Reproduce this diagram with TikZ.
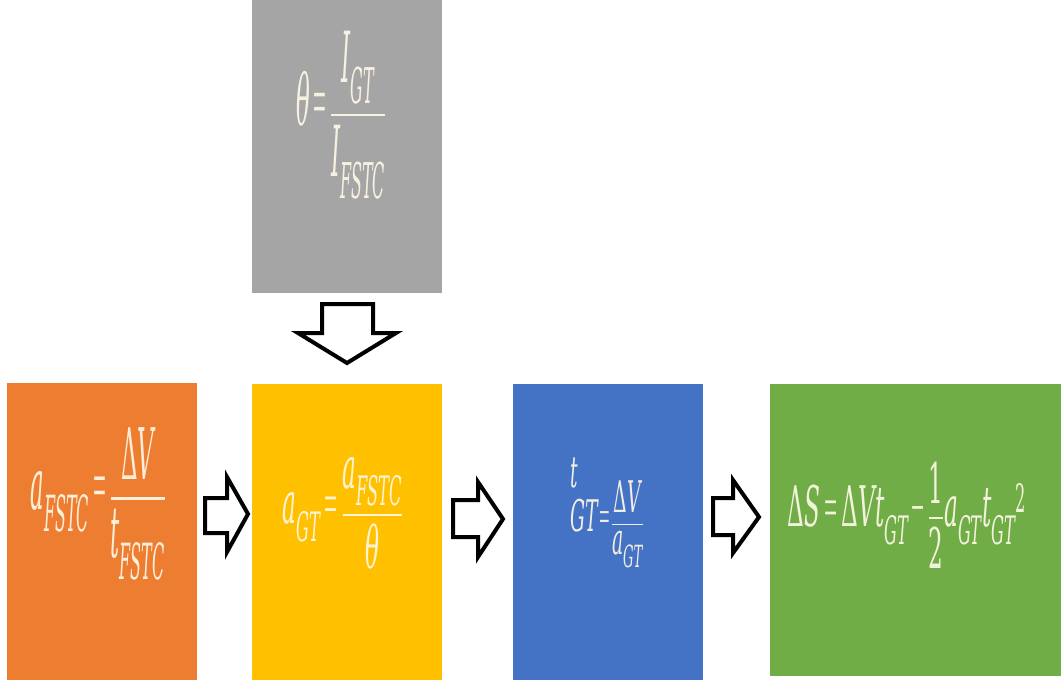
\documentclass[tikz,border=0pt]{standalone}
\usepackage{amsmath}
\usepackage{graphicx}
\usepackage{fontspec}
\newfontfamily\eqfont{DejaVu Serif}
\newfontfamily\eqthin{Liberation Serif}
\newcommand\mi[1]{\text{\eqfont\itshape #1}}
\newcommand\mup[1]{\text{\eqfont #1}}
\newcommand\eqs{\mathrel{\text{\eqthin =}}}
\newcommand\mns{\mathbin{\text{\eqthin −}}}
\newcommand\fr[2]{\genfrac{}{}{1.7pt}{0}{#1}{#2}}
\definecolor{boxgray}{HTML}{A5A5A5}
\definecolor{boxorange}{HTML}{ED7D31}
\definecolor{boxyellow}{HTML}{FFC000}
\definecolor{boxblue}{HTML}{4472C4}
\definecolor{boxgreen}{HTML}{70AD47}
\definecolor{eqcol}{HTML}{FFF8E8}
\begin{document}
\begin{tikzpicture}[x=1pt,y=-1pt,
  box/.style={draw=none,inner sep=0pt,outer sep=0pt,anchor=north west},
  eq/.style={inner sep=0pt,text=eqcol,text opacity=0.92,font=\eqfont\fontsize{40}{46}\selectfont},
  blockarrow/.style={draw=black,fill=white,line width=4pt,line join=miter}]
\useasboundingbox (0,0) rectangle (1061,682);
\fill[white] (0,0) rectangle (1061,682);
% boxes
\node[box,fill=boxgray,minimum width=190pt,minimum height=293pt] (theta) at (252,0) {};
\node[box,fill=boxorange,minimum width=190pt,minimum height=297pt] (afstc) at (7,383) {};
\node[box,fill=boxyellow,minimum width=190pt,minimum height=296pt] (agt) at (252,384) {};
\node[box,fill=boxblue,minimum width=190pt,minimum height=296pt] (tgt) at (513,384) {};
\node[box,fill=boxgreen,minimum width=291pt,minimum height=292pt] (ds) at (770,384) {};
% formulas
\node[eq] (thetaeq) at (341,115) {\scalebox{0.57}[1.76]{$\displaystyle \mi{θ}\eqs\fr{\mi{I}_{\mi{GT}}}{\mi{I}_{\mi{FSTC}}}$}};
\node[eq] (afstceq) at (98,504) {\scalebox{0.57}[1.78]{$\displaystyle \mi{a}_{\mi{FSTC}}\eqs\fr{\mup{Δ}\mi{V}}{\mi{t}_{\mi{FSTC}}}$}};
\node[eq] (agteq) at (343,513) {\scalebox{0.58}[1.45]{$\displaystyle \mi{a}_{\mi{GT}}\eqs\fr{\mi{a}_{\mi{FSTC}}}{\mi{θ}}$}};
\node[eq] (tgteq) at (607,513) {\scalebox{0.47}[1.09]{$\displaystyle \rlap{\raisebox{1.0em}{\mi{t}}}\mi{GT}\!\eqs\!\fr{\mup{Δ}\mi{V}}{\mi{a}_{\mi{GT}}}$}};
\node[eq] (dseq) at (907,515) {\scalebox{0.58}[1.4]{$\displaystyle \mup{Δ}\mi{S}\eqs\mup{Δ}\mi{V}\mi{t}_{\mi{GT}}\mns\fr{\mup{1}}{\mup{2}}\mi{a}_{\mi{GT}}\mi{t}_{\mi{GT}}{}^{\mup{2}}$}};
% block arrows
\draw[blockarrow] (322,304) -- (373,304) -- (373,333) -- (396,333) -- (347,363) -- (298,333) -- (322,333) -- cycle;
\draw[blockarrow] (205,498) -- (227,498) -- (227,477) -- (248,514) -- (227,552) -- (227,533) -- (205,533) -- cycle;
\draw[blockarrow] (453,500) -- (478,500) -- (478,482) -- (503,519) -- (478,557) -- (478,537) -- (453,537) -- cycle;
\draw[blockarrow] (713,498) -- (733,498) -- (733,480) -- (759,517) -- (733,553) -- (733,535) -- (713,535) -- cycle;
\end{tikzpicture}
\end{document}
